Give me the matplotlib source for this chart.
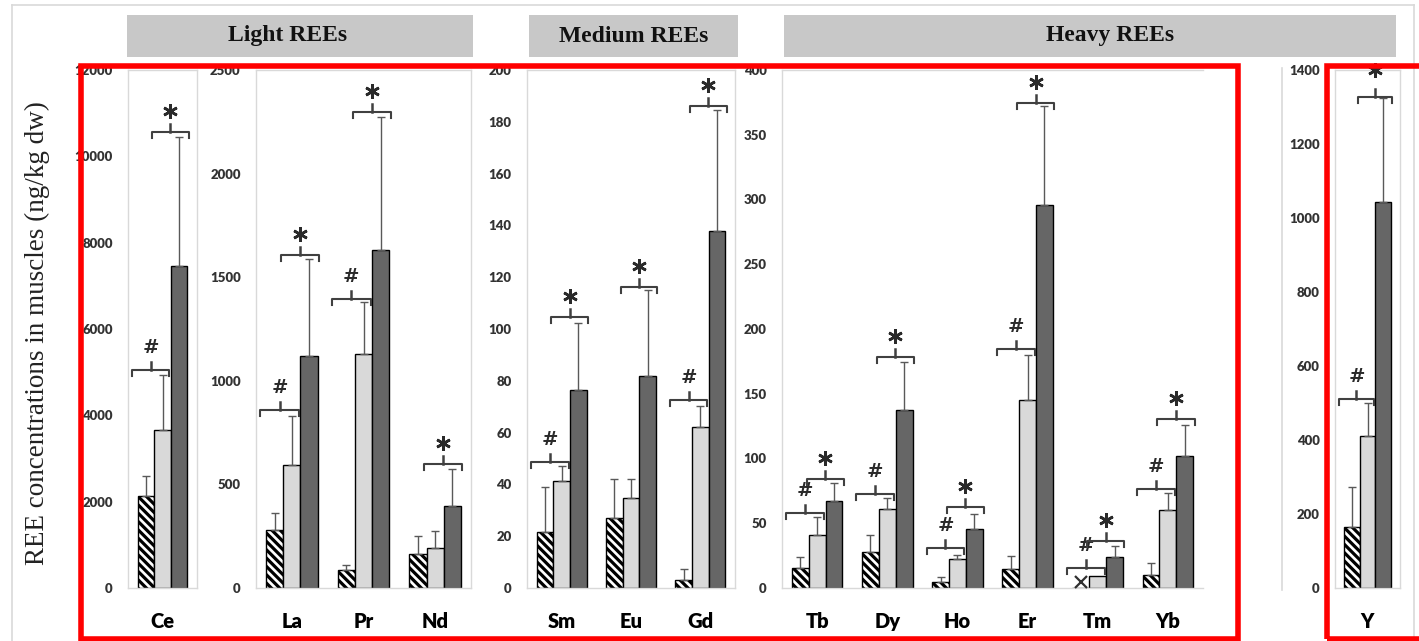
import numpy as np
import matplotlib
matplotlib.use('Agg')
import matplotlib.pyplot as plt
from matplotlib.patches import Rectangle
from matplotlib.lines import Line2D

# 数据
# g1 = 斜线柱, g2 = 浅灰柱, g3 = 深灰柱, *_up = 误差线顶端
ce_cats = ['Ce']
ce_g1 = [2130]
ce_g1_up = [2600]
ce_g2 = [3650]
ce_g2_up = [4930]
ce_g3 = [7450]
ce_g3_up = [10450]
ce_hash = [5050]
ce_star = [10560]

la_cats = ['La', 'Pr', 'Nd']
la_g1 = [282, 85, 162]
la_g1_up = [360, 110, 250]
la_g2 = [595, 1130, 195]
la_g2_up = [830, 1380, 275]
la_g3 = [1120, 1630, 395]
la_g3_up = [1590, 2275, 575]
la_hash = [859, 1396, None]
la_star = [1609, 2295, 598]

md_cats = ['Sm', 'Eu', 'Gd']
md_g1 = [21.5, 27, 3]
md_g1_up = [39, 42, 7.4]
md_g2 = [41.4, 34.6, 62]
md_g2_up = [47.2, 42.1, 70.1]
md_g3 = [76.4, 82, 138]
md_g3_up = [102.4, 115.1, 184.5]
md_hash = [48.8, None, 72.5]
md_star = [104.5, 116.3, 186]

hv_cats = ['Tb', 'Dy', 'Ho', 'Er', 'Tm', 'Yb']
hv_g1 = [15.8, 27.6, 4.8, 14.9, 0, 10]
hv_g1_up = [23.8, 41.2, 8.6, 24.4, 0, 19.4]
hv_g2 = [41.2, 60.9, 22.2, 144.8, 9.3, 59.9]
hv_g2_up = [54.5, 69.7, 25.4, 179.7, 9.3, 73.5]
hv_g3 = [67.2, 137.6, 45.6, 296, 24.3, 102]
hv_g3_up = [80.8, 174.3, 57, 372, 32.8, 125.8]
hv_hash = [57.7, 72.9, 30.7, 184.5, 15.5, 76.7]
hv_star = [84, 178, 62.4, 374.6, 36.4, 130.6]
hv_nd = ['Tm']          # 未检出，用 x 标记
hv_nd_val = [5]

y_cats = ['Y']
y_g1 = [164]
y_g1_up = [273]
y_g2 = [412]
y_g2_up = [501]
y_g3 = [1044]
y_g3_up = [1323]
y_hash = [510]
y_star = [1328]

W, H = 1419, 641
TOP, BOT = 70, 588
BW = 0.24

plt.rcParams['hatch.linewidth'] = 2.3
plt.rcParams['font.family'] = ['Lato', 'DejaVu Sans']

fig = plt.figure(figsize=(W / 100, H / 100), dpi=100)


def bracket(ax, x0, x1, y, sym, dpp, lift=21):
    d = 6 * dpp
    xm = (x0 + x1) / 2
    ax.plot([x0, x0, x1, x1], [y - d, y, y, y - d], color='#404040', lw=1.5,
            solid_joinstyle='round', clip_on=False, zorder=5)
    ax.plot([xm, xm], [y, y + 8 * dpp], color='#404040', lw=1.8, clip_on=False, zorder=5)
    if sym == '*':
        ax.plot([xm], [y + lift * dpp], marker=(6, 2, 0), ms=10.5, mew=1.9,
                color='#2a2a2a', clip_on=False, zorder=5)
    else:
        ax.text(xm, y + 22 * dpp, '#', ha='center', va='center', fontsize=14,
                fontweight='bold', family='DejaVu Serif', color='#2a2a2a',
                clip_on=False, zorder=5)


def panel(left, right, ymax, step, cats, g1, g1u, g2, g2u, g3, g3u, hsh, star,
          no_right=False, star_lift=21):
    ax = fig.add_axes([left / W, 1 - BOT / H, (right - left) / W, (BOT - TOP) / H])
    n = len(cats)
    x = np.arange(n)
    dpp = ymax / (BOT - TOP)
    ax.bar(x - BW, g1, BW, color='white', edgecolor='black', hatch='\\\\\\\\', lw=1, zorder=2)
    ax.bar(x, g2, BW, color='#d9d9d9', edgecolor='black', lw=1, zorder=2)
    ax.bar(x + BW, g3, BW, color='#666666', edgecolor='black', lw=1, zorder=2)
    for off, v, u in [(-BW, g1, g1u), (0, g2, g2u), (BW, g3, g3u)]:
        v = np.array(v, float)
        u = np.array(u, float)
        m = u > v
        ax.errorbar(x[m] + off, v[m], yerr=[np.zeros(m.sum()), (u - v)[m]], fmt='none',
                    ecolor='#595959', elinewidth=1, capsize=3, capthick=1, zorder=3)
    for i in range(n):
        if hsh[i] is not None:
            bracket(ax, i - 0.44, i + 0.10, hsh[i], '#', dpp)
        if star[i] is not None:
            bracket(ax, i - 0.15, i + 0.38, star[i], '*', dpp, star_lift)
    ax.set_xlim(-0.5, n - 0.5)
    ax.set_ylim(0, ymax)
    ax.set_yticks(np.arange(0, ymax + 1, step))
    ax.set_xticks(x)
    ax.set_xticklabels(cats, fontsize=14.5, fontweight='heavy', color='black')
    for lab in ax.get_yticklabels():
        lab.set_fontsize(9.5)
        lab.set_fontweight('heavy')
        lab.set_color('#333333')
    ax.tick_params(axis='y', length=0, pad=11)
    ax.tick_params(axis='x', length=0, pad=17)
    for s in ax.spines.values():
        s.set_color('#d9d9d9')
        s.set_linewidth(1)
    if no_right:
        ax.spines['right'].set_visible(False)
    return ax


panel(128, 197, 12000, 2000, ce_cats, ce_g1, ce_g1_up, ce_g2, ce_g2_up, ce_g3, ce_g3_up, ce_hash, ce_star)
panel(256, 471, 2500, 500, la_cats, la_g1, la_g1_up, la_g2, la_g2_up, la_g3, la_g3_up, la_hash, la_star)
panel(527, 735, 200, 20, md_cats, md_g1, md_g1_up, md_g2, md_g2_up, md_g3, md_g3_up, md_hash, md_star)
ax_h = panel(782, 1203, 400, 50, hv_cats, hv_g1, hv_g1_up, hv_g2, hv_g2_up, hv_g3, hv_g3_up,
             hv_hash, hv_star, no_right=True)
panel(1335, 1400, 1400, 200, y_cats, y_g1, y_g1_up, y_g2, y_g2_up, y_g3, y_g3_up, y_hash, y_star,
      star_lift=27)

# Tm 未检出标记
for c, v in zip(hv_nd, hv_nd_val):
    ax_h.plot([hv_cats.index(c) - BW], [v], marker='x', ms=8.5, mew=1.6, color='#303030', zorder=4)


def fx(x):
    return x / W


def fy(y):
    return 1 - y / H


# 外框
for xs, ys in [([12, 1414], [5, 5]), ([12, 12], [5, 641]), ([1414, 1414], [5, 641]),
               ([1282, 1282], [68, 590])]:
    fig.add_artist(Line2D([fx(v) for v in xs], [fy(v) for v in ys], color='#d9d9d9', lw=1.2))

# 分组标题
for l, r, cx, txt in [(127, 473, 288, 'Light REEs'), (529, 738, 634, 'Medium REEs'),
                      (784, 1396, 1110, 'Heavy REEs')]:
    fig.add_artist(Rectangle((fx(l), fy(57)), (r - l) / W, 42 / H, transform=fig.transFigure,
                             facecolor='#c8c8c8', edgecolor='none'))
    fig.text(fx(cx), fy(36), txt, ha='center', va='center', fontsize=17, fontweight='bold',
             family='Liberation Serif', color='#111111')

fig.text(fx(37), fy(333), 'REE concentrations in muscles (ng/kg dw)', rotation=90,
         ha='center', va='center', fontsize=19.5, family='Liberation Serif', color='#222222')

# 红框
for l, t, r, b in [(80.5, 66, 1237.5, 639), (1327, 66, 1440, 639)]:
    fig.add_artist(Rectangle((fx(l), fy(b)), (r - l) / W, (b - t) / H, transform=fig.transFigure,
                             facecolor='none', edgecolor='#ff0000', lw=4, zorder=20))

fig.savefig('out.png', dpi=100)
